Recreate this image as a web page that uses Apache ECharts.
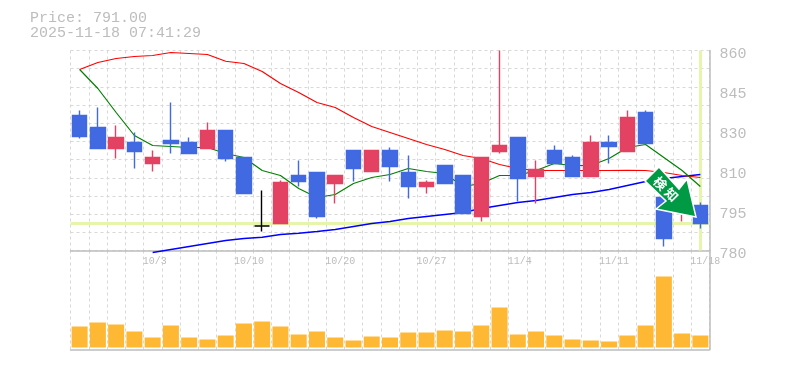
<!DOCTYPE html>
<html>
<head>
<meta charset="utf-8">
<style>html,body{margin:0;padding:0;background:#fff}#chart{width:785px;height:370px}</style>
<script src="https://cdn.jsdelivr.net/npm/echarts@6/dist/echarts.min.js"></script>
</head>
<body>
<div id="chart"></div>
<script>
const dates = ['9/25','9/26','9/29','9/30','10/3','10/6','10/7','10/8','10/9','10/10','10/14','10/15','10/16','10/17','10/20','10/21','10/22','10/23','10/24','10/27','10/28','10/29','10/30','10/31','11/4','11/5','11/6','11/7','11/10','11/11','11/12','11/13','11/14','11/17','11/18'];
const shownDates = ['10/3','10/10','10/20','10/27','11/4','11/11','11/18'];
// open, close, low, high
const candles = [
    [834,825.6,824.8,836],[829.2,820.8,820.8,837.2],[820.8,825.2,816.8,830],[823.2,819.6,812.8,827.2],[814.8,817.2,811.6,820],
    [824,822.8,818.8,839.2],[823.2,818.8,818.8,825.2],[820.8,828,820.8,831.2],[828,816.8,815.6,828],[817.2,802.8,802.8,817.2],
    [789.8,789.8,787.6,804],[790.8,807.2,790.8,808],[810,807.6,805.6,816],[811.2,793.6,792.8,811.2],[806.8,810,798.8,810],
    [820,812.8,807.6,820],[811.6,820,811.6,820],[820,813.6,807.6,821.2],[811.2,805.6,800.8,818],[805.6,807.2,802.8,808],
    [814,806.8,806.8,814],[810,794.8,794.8,810],[793.6,817.2,791.6,817.2],[819.6,822,818.8,860],[825.2,808.8,799.6,825.2],
    [809.6,812.4,798.8,816],[820,814.8,814.8,822],[817.2,809.6,809.6,818],[809.6,823.2,809.6,826],[823.2,821.6,814.8,826],
    [819.6,833.2,819.6,836],[835.2,822.8,822.8,836],[801.2,784.8,781.6,801.2],[795.6,804,791.6,804],[798,790.8,788.8,799.2]
];
const maShort = [852.4,844.8,835.2,826,822,821.6,821.2,821.2,818.8,817.2,812,810,804.8,801.2,802.4,806.8,809.2,810.4,812.8,811.6,810.8,805.6,806.8,810,810,812,814.8,814,814,816.8,821.2,822.4,817.2,812,805.6];
const maMid = [852.4,855.2,856.8,857.6,858,859.2,858.8,858.4,855.7,854.8,851.6,846.8,843.2,839.2,837.2,833.2,829.6,827.2,824.8,822.4,820.4,818,816.8,814.4,812.8,812,812,812,812,812,812.1,812,811.2,810,809.2];
const maLong = [null,null,null,null,779.2,780.4,781.6,782.8,784,784.8,785.3,786.4,786.9,787.6,788.4,789.6,790.8,791.6,792.8,793.6,794.4,795.2,796.8,798,799.2,800,801.2,802.4,803.2,804.4,806,807.6,808.8,809.6,810.4];
const volumes = [21,25,23,16,10,22,10,8,12,24,26,21,13,16,10,7,11,10,15,15,17,16,22,40,13,16,12,8,7,6,12,22,71,14,12];
const priceTickValues = [780,796,812,828,844,860];
const priceTickLabels = ['780','795','810','830','845','860'];
const lastPrice = 791;
const priceText = 'Price: 791.00';
const timeText = '2025-11-18 07:41:29';
const signalText = '検 知';

const GRAY = '#bdbdbd';
const GRID_DASH = { color: '#d8d8d8', width: 1, type: [3, 3] };
const MONO = '"Liberation Mono", monospace';

const myChart = echarts.init(document.getElementById('chart'), null, { renderer: 'canvas' });

myChart.setOption({
    animation: false,
    backgroundColor: '#fff',
    title: [
        { text: priceText, left: 30, top: 11, padding: 0, textStyle: { fontFamily: MONO, fontSize: 15, fontWeight: 'normal', color: GRAY } },
        { text: timeText, left: 30, top: 26, padding: 0, textStyle: { fontFamily: MONO, fontSize: 15, fontWeight: 'normal', color: GRAY } }
    ],
    grid: [
        { left: 70.5, right: 75.5, top: 50.5, height: 200, show: false },
        { left: 70.5, right: 75.5, top: 250.5, height: 99, show: false }
    ],
    xAxis: [
        {
            type: 'category', gridIndex: 0, data: dates,
            axisLine: { lineStyle: { color: GRAY, width: 1.5 } },
            axisTick: { show: false },
            axisLabel: {
                color: GRAY, fontFamily: MONO, fontSize: 10, margin: 6, hideOverlap: false, padding: [0, 2, 0, 0],
                interval: (i, v) => shownDates.includes(v),
                // 左寄せに見せるため先頭に空白
                formatter: (v) => ' '.repeat(v.length - 3) + v
            },
            splitLine: { show: true, interval: 0, lineStyle: GRID_DASH }
        },
        {
            type: 'category', gridIndex: 1, data: dates,
            axisLine: { onZero: false, lineStyle: { color: GRAY, width: 1.5 } },
            axisTick: { show: false },
            axisLabel: { show: false },
            splitLine: { show: true, interval: 0, lineStyle: GRID_DASH }
        }
    ],
    yAxis: [
        {
            // 価格軸
            type: 'value', gridIndex: 0, position: 'right', min: 780, max: 860,
            axisLine: { show: true, lineStyle: { color: GRAY, width: 1.5 } },
            axisTick: { show: false },
            axisLabel: {
                color: GRAY, fontFamily: MONO, fontSize: 15, margin: 10, verticalAlign: 'top', lineHeight: 7,
                customValues: priceTickValues,
                formatter: (v) => priceTickLabels[priceTickValues.indexOf(v)]
            },
            splitLine: { show: false }
        },
        {
            // グリッド線だけ
            type: 'value', gridIndex: 0, position: 'left', min: 0, max: 11, interval: 1,
            axisLine: { show: false }, axisTick: { show: false }, axisLabel: { show: false },
            splitLine: { show: true, lineStyle: GRID_DASH }
        },
        {
            type: 'value', gridIndex: 1, position: 'right', min: -2, max: 97,
            axisLine: { show: true, lineStyle: { color: GRAY, width: 1.5 } },
            axisTick: { show: false }, axisLabel: { show: false }, splitLine: { show: false }
        }
    ],
    series: [
        {
            type: 'line', name: 'last', xAxisIndex: 0, yAxisIndex: 0, z: 1, data: [], silent: true,
            markLine: {
                z: 1, silent: true, symbol: 'none', label: { show: false }, animation: false,
                lineStyle: { color: '#e5f5ac', width: 3, type: 'solid' },
                data: [{ yAxis: lastPrice }, { xAxis: dates[dates.length - 1] }]
            }
        },
        { type: 'line', name: 'long', data: maLong, xAxisIndex: 0, yAxisIndex: 0, z: 2, clip: false, showSymbol: false, lineStyle: { color: '#0000ff', width: 1.3 } },
        { type: 'line', name: 'mid', data: maMid, xAxisIndex: 0, yAxisIndex: 0, z: 2, showSymbol: false, lineStyle: { color: '#ff0000', width: 1.2 } },
        { type: 'line', name: 'short', data: maShort, xAxisIndex: 0, yAxisIndex: 0, z: 2, showSymbol: false, lineStyle: { color: '#008000', width: 1.2 } },
        {
            type: 'candlestick', name: 'price', data: candles,
            xAxisIndex: 0, yAxisIndex: 0, z: 3, barWidth: 15,
            itemStyle: {
                color: '#e34262', color0: '#4169e1',
                borderColor: '#e34262', borderColor0: '#4169e1', borderColorDoji: '#000000', borderWidth: 1.4
            }
        },
        {
            type: 'bar', name: 'volume', data: volumes, xAxisIndex: 1, yAxisIndex: 2, barWidth: 16,
            itemStyle: { color: '#ffb833' }
        }
    ],
    graphic: [
        {
            type: 'polygon', z: 100,
            shape: { points: [[659, 167], [679, 189], [687, 179], [696, 217], [656, 209], [666, 201], [645, 181]] },
            style: { fill: '#009944', stroke: '#ffffff', lineWidth: 1.5 }
        },
        {
            type: 'text', z: 101, x: 666, y: 189, rotation: -Math.PI / 4,
            style: {
                text: signalText, fill: '#ffffff', fontFamily: '"Noto Sans CJK JP"', fontSize: 13, fontWeight: 'bold',
                align: 'center', verticalAlign: 'middle'
            }
        }
    ]
});
</script>
</body>
</html>
